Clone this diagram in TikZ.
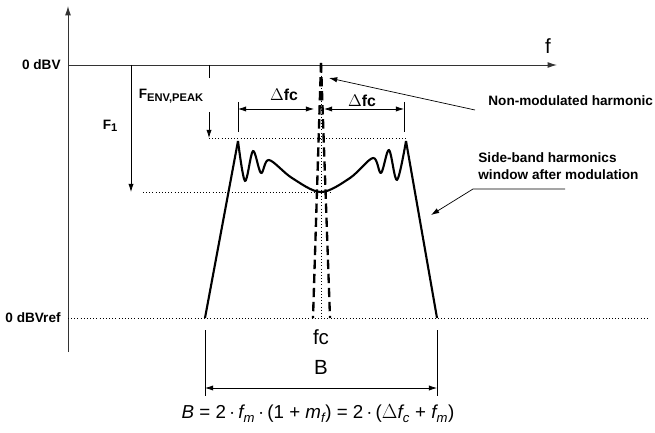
\documentclass[tikz,border=0pt]{standalone}
\usepackage{fontspec}
\setmainfont{Liberation Sans}
\usepackage{amsmath}
\usetikzlibrary{arrows.meta, positioning, calc}

\begin{document}
\begin{tikzpicture}[
    x=0.03cm, y=-0.03cm,
    every node/.style={font=\fontsize{11.6}{14}\selectfont\bfseries, inner sep=1pt},
    biglbl/.style={font=\fontsize{17.5}{20}\selectfont},
    dlbl/.style={font=\fontsize{13.5}{16}\selectfont\bfseries},
    axisln/.style={line width=0.8pt, black!80},
    arr/.style={-{Latex[length=7pt, width=4.5pt]}, line width=0.6pt},
    dim/.style={{Latex[length=7pt, width=4.5pt]}-{Latex[length=7pt, width=4.5pt]}, line width=0.6pt},
    extln/.style={line width=0.6pt},
    guide/.style={dotted, line width=0.7pt},
    envln/.style={line width=1.8pt, line join=round},
    harm/.style={line width=2pt, dash pattern=on 8pt off 4pt}
]
\useasboundingbox (0,0) rectangle (655,433);

% ===== Ejes =====
\coordinate (ytop) at (68,6);
\coordinate (ybot) at (68,352);
\coordinate (x0) at (68,65);
\coordinate (xend) at (557,65);
\coordinate (ref0) at (68,318);
\coordinate (ref1) at (650,318);
\draw[axisln, -{Latex[length=8pt, width=5pt]}] (ybot) -- (ytop);
\draw[axisln, -{Latex[length=8pt, width=5pt]}] (x0) -- (xend);
\draw[guide] (ref0) -- (ref1);

\node[anchor=east] (l0dbv) at (62,65) {0 dBV};
\node[anchor=east] (lref) at (62,318) {0 dBVref};
\node[biglbl] (lf) at (548,46) {f};

% ===== Niveles F1 y FENV,PEAK =====
\coordinate (f1a) at (131,65);
\coordinate (f1b) at (131,192);
\draw[arr] (f1a) -- (f1b);
\node (lF1) at (110,126) {F\raisebox{-0.35ex}{\fontsize{9.5}{11}\selectfont 1}};

\coordinate (fea) at (209,65);
\coordinate (feb) at (209,78);
\coordinate (fec) at (209,112);
\coordinate (fed) at (209,138);
\draw[extln] (fea) -- (feb);
\draw[arr] (fec) -- (fed);
\node (lFenv) at (171,96) {F\raisebox{-0.35ex}{\fontsize{9.5}{11}\selectfont ENV,PEAK}};

\draw[guide] (fed) -- (408,138);
\draw[guide] (143,192) -- (330,192);

% ===== Armonica no modulada (fc) =====
\coordinate (fctop) at (321,63);
\coordinate (fcbot) at (321,318);
\draw[guide] (fctop) -- (fcbot);
\draw[harm] (fctop) -- (313,318);
\draw[harm] (fctop) -- (330,318);

% ===== Envolvente de bandas laterales =====
\draw[envln] (205,318) -- (238,141);
\draw[envln] plot[smooth, tension=0.55] coordinates {
    (238,141) (245,181) (253,151) (261,173) (269,160)
    (292,178) (321,192) (350,178)
    (373,158) (381,173) (389,150) (397,180) (406,141)};
\draw[envln] (406,141) -- (437,318);

% ===== Cotas Delta fc =====
\coordinate (dl) at (238,109);
\coordinate (dcl) at (314,109);
\coordinate (dcr) at (324,109);
\coordinate (dr) at (404,109);
\draw[extln] (238,102) -- (238,132);
\draw[extln] (404,102) -- (404,132);
\draw[dim] (dl) -- (dcl);
\draw[dim] (dcr) -- (dr);
\node[dlbl] (ldfc1) at (284,95) {$\Delta$fc};
\node[dlbl] (ldfc2) at (362,101) {$\Delta$fc};

% ===== Anotaciones =====
\node[anchor=west] (lnm) at (487,101) {Non-modulated harmonic};
\coordinate (nmst) at (475,110);
\coordinate (nmtip) at (329,78);
\draw[arr] (nmst) -- (nmtip);

\node[anchor=west, align=left] (lsb) at (477,166) {Side-band harmonics\\window after modulation};
\coordinate (sbst) at (565,189);
\coordinate (sbkn) at (473,189);
\coordinate (sbtip) at (431,215);
\draw[arr] (sbst) -- (sbkn) -- (sbtip);

% ===== Ancho de banda B =====
\draw[extln] (205,330) -- (205,396);
\draw[extln] (437,330) -- (437,396);
\coordinate (bl) at (205,388);
\coordinate (br) at (437,388);
\draw[dim] (bl) -- (br);
\node[biglbl] (lfc) at (321,337) {fc};
\node[biglbl] (lB) at (321,367) {B};

\node[font=\fontsize{16}{18}\selectfont] (lform) at (318,414)
  {\itshape B\upshape\ = 2$\,\cdot\,$\itshape f\textsubscript{m}\upshape$\,\cdot\,$(1 + \itshape m\textsubscript{f}\upshape) = 2$\,\cdot\,$($\Delta$\itshape f\textsubscript{c}\upshape\ + \itshape f\textsubscript{m}\upshape)};

\end{tikzpicture}
\end{document}
